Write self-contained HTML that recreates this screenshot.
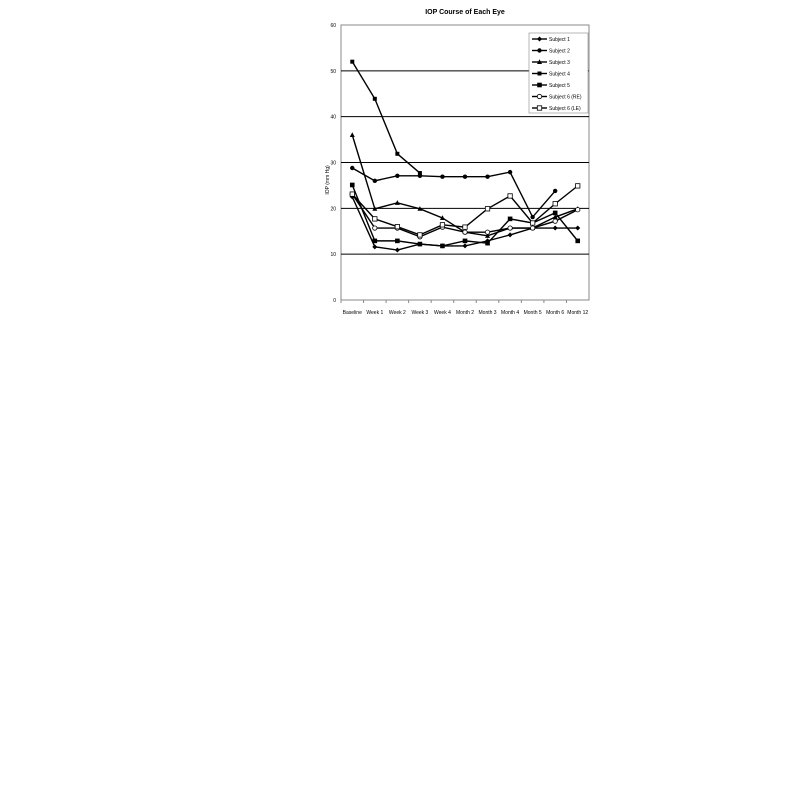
<!DOCTYPE html>
<html><head><meta charset="utf-8"><style>
body{margin:0;background:#fff;width:800px;height:800px;overflow:hidden;font-family:"Liberation Sans",sans-serif}
</style></head><body>
<svg id="chart" width="800" height="800" xmlns="http://www.w3.org/2000/svg"></svg>
<script>
const categories=["Baseline","Week 1","Week 2","Week 3","Week 4","Month 2","Month 3","Month 4","Month 5","Month 6","Month 12"];
const yTicks=[0,10,20,30,40,50,60];
const seriesNames=["Subject 1","Subject 2","Subject 3","Subject 4","Subject 5","Subject 6 (RE)","Subject 6 (LE)"];
const s1=[22.5,11.6,10.9,12.2,11.8,11.8,12.9,14.2,15.7,15.7,15.7];
const s2=[28.8,26,27.1,27.1,26.9,26.9,26.9,27.9,18.1,23.8,null];
const s3=[36,19.9,21.2,19.9,17.9,14.8,14,15.7,15.7,18.1,19.9];
const s4=[52,43.9,31.9,27.7,null,null,null,null,null,null,null];
const s5=[25.1,12.9,12.9,12.2,11.8,12.9,12.4,17.7,16.8,19,12.9];
const s6re=[23.1,15.7,15.7,13.8,15.9,14.8,14.8,15.7,15.7,17.2,19.7];
const s6le=[23.1,17.7,16,14.2,16.4,15.9,19.9,22.7,16.8,21,24.9];
const allSeries=[s1,s2,s3,s4,s5,s6re,s6le];
const markers=["diamond","circle","triangle","square","bigsquare","ocircle","osquare"];

const svg=document.getElementById('chart');
const NS="http://www.w3.org/2000/svg";
const L=341,R=589,T=25,B=300;
const x=i=>L+(R-L)*(i+0.5)/categories.length;
const y=v=>B-(B-T)*v/60;
function mk(tag,attrs,parent){const e=document.createElementNS(NS,tag);for(const k in attrs)e.setAttribute(k,attrs[k]);(parent||svg).appendChild(e);return e;}

const t=mk('text',{x:465,y:14,'text-anchor':'middle','font-size':7,'font-weight':'bold'});
t.textContent="IOP Course of Each Eye";



const frame=mk('rect',{x:L,y:T,width:R-L,height:B-T,fill:'none',stroke:'#888','stroke-width':1});



yTicks.forEach(v=>{
  if(v>0&&v<60){const g=mk('line',{x1:L,x2:R,y1:y(v),y2:y(v),stroke:'#000','stroke-width':1});
  
  }
  const lb=mk('text',{x:L-5,y:y(v)+2,'text-anchor':'end','font-size':5});
  lb.textContent=v;
  
  
});
const yt=mk('text',{x:0,y:0,'text-anchor':'middle','font-size':5,transform:'translate(329,180) rotate(-90)'});
yt.textContent="IOP (mm Hg)";



categories.forEach((c,i)=>{
  const tk=mk('line',{x1:L+(R-L)*i/categories.length,x2:L+(R-L)*i/categories.length,y1:B,y2:B+3,stroke:'#888'});
  
  
  const lb=mk('text',{x:x(i),y:B+14,'text-anchor':'middle','font-size':5});
  lb.textContent=c;
  
  
});

function marker(type,cx,cy,g){
  let e;
  if(type==="diamond")e=mk('polygon',{points:`${cx},${cy-2.5} ${cx+2.5},${cy} ${cx},${cy+2.5} ${cx-2.5},${cy}`,fill:'#000'},g);
  else if(type==="circle")e=mk('circle',{cx,cy,r:2.2,fill:'#000'},g);
  else if(type==="triangle")e=mk('polygon',{points:`${cx},${cy-2.7} ${cx+2.5},${cy+2} ${cx-2.5},${cy+2}`,fill:'#000'},g);
  else if(type==="square")e=mk('rect',{x:cx-2,y:cy-2,width:4,height:4,fill:'#000'},g);
  else if(type==="bigsquare")e=mk('rect',{x:cx-2.3,y:cy-2.3,width:4.6,height:4.6,fill:'#000'},g);
  else if(type==="ocircle")e=mk('circle',{cx,cy,r:2.2,fill:'#fff',stroke:'#000','stroke-width':0.8},g);
  else e=mk('rect',{x:cx-2.2,y:cy-2.2,width:4.4,height:4.4,fill:'#fff',stroke:'#000','stroke-width':0.8},g);
  
  
}

allSeries.forEach((s,si)=>{
  const g=mk('g',{});
  
  
  let d="",pen=false;
  s.forEach((v,i)=>{if(v==null){pen=false;return;}d+=(pen?"L":"M")+x(i)+","+y(v)+" ";pen=true;});
  mk('path',{d,fill:'none',stroke:'#000','stroke-width':1.4},g);
  s.forEach((v,i)=>{if(v!=null)marker(markers[si],x(i),y(v),g);});
});

const lg=mk('g',{});


mk('rect',{x:529,y:33,width:59,height:80,fill:'#fff',stroke:'#888','stroke-width':0.6},lg);
seriesNames.forEach((n,i)=>{
  const ey=39+i*11.5;
  const eg=mk('g',{},lg);
  
  
  mk('line',{x1:532,x2:547,y1:ey,y2:ey,stroke:'#000','stroke-width':1.4},eg);
  marker(markers[i],539.5,ey,eg);
  const tx=mk('text',{x:549,y:ey+2,'font-size':5},eg);
  tx.textContent=n;
});
</script>
</body></html>
